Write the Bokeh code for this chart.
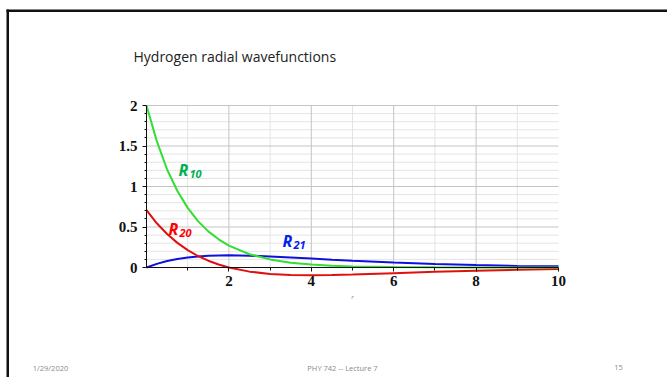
from bokeh.plotting import figure
from bokeh.models import (Range1d, FixedTicker, NumeralTickFormatter, Label,
                          BoxAnnotation, ColumnDataSource)
from bokeh.embed import file_html
from bokeh.resources import INLINE

# ---- data ----
r = [0, 0.25, 0.5, 0.75, 1, 1.25, 1.5, 1.75, 2, 2.5, 3, 3.5, 4, 4.5, 5, 6, 7, 8, 9, 10]
R10 = [2.0, 1.56, 1.21, 0.945, 0.736, 0.573, 0.446, 0.348, 0.271, 0.164, 0.100,
       0.060, 0.037, 0.022, 0.013, 0.005, 0.002, 0.001, 0.0, 0.0]
R20 = [0.707, 0.546, 0.413, 0.304, 0.214, 0.142, 0.084, 0.037, 0.0, -0.051, -0.079,
       -0.092, -0.096, -0.093, -0.087, -0.070, -0.053, -0.039, -0.028, -0.019]
R21 = [0.0, 0.045, 0.080, 0.105, 0.124, 0.137, 0.145, 0.149, 0.150, 0.146, 0.137,
       0.124, 0.111, 0.097, 0.084, 0.061, 0.043, 0.030, 0.020, 0.014]

x_ticks = [2, 4, 6, 8, 10]
x_minor = [1, 3, 5, 7, 9]
y_ticks = [0, 0.5, 1, 1.5, 2]
y_minor = [0.1, 0.2, 0.3, 0.4, 0.6, 0.7, 0.8, 0.9, 1.1, 1.2, 1.3, 1.4,
           1.6, 1.7, 1.8, 1.9]

title_text = "Hydrogen radial wavefunctions"
footer_left = "1/29/2020"
footer_mid = "PHY 742 -- Lecture 7"
footer_right = "15"

# ---- layout helpers (picture pixels -> data) ----
X0_PX, X10_PX = 146.0, 558.0
Y0_PX, PX_PER_Y = 267.0, 81.0
def px2x(px):
    return (px - X0_PX) / ((X10_PX - X0_PX) / 10.0)
def py2y(py):
    return (Y0_PX - py) / PX_PER_Y

W, H = 667, 377
OX, OY = 0, 0  # picture offset of figure

p = figure(width=W, height=H, output_backend="svg", toolbar_location=None,
           x_range=Range1d(px2x(OX), px2x(OX + W)),
           y_range=Range1d(py2y(OY + H), py2y(OY)),
           min_border_left=0, min_border_right=0, min_border_top=0, min_border_bottom=0,
           background_fill_color="white", border_fill_color="white")
p.outline_line_color = None
p.xgrid.visible = False
p.ygrid.visible = False

# ---- grid (drawn from tick lists) ----
ymin, ymax = y_ticks[0], y_ticks[-1]
xmin, xmax = 0, x_ticks[-1]
vmaj = [t for t in x_ticks if t < xmax]
hmaj = [t for t in y_ticks if t > ymin]
p.segment(x0=x_minor, y0=[ymin]*len(x_minor), x1=x_minor, y1=[ymax]*len(x_minor),
          line_color="#e4e4e4", line_width=1)
p.segment(x0=[xmin]*len(y_minor), y0=y_minor, x1=[xmax]*len(y_minor), y1=y_minor,
          line_color="#e4e4e4", line_width=1)
p.segment(x0=vmaj, y0=[ymin]*len(vmaj), x1=vmaj, y1=[ymax]*len(vmaj),
          line_color="#c4c4c4", line_width=1)
p.segment(x0=[xmin]*len(hmaj), y0=hmaj, x1=[xmax]*len(hmaj), y1=hmaj,
          line_color="#c4c4c4", line_width=1)

# ---- curves ----
src = ColumnDataSource(dict(r=r, R10=R10, R20=R20, R21=R21))
p.line("r", "R21", source=src, line_color="#1010dd", line_width=2)
p.line("r", "R20", source=src, line_color="#e01010", line_width=2)
p.line("r", "R10", source=src, line_color="#33dd33", line_width=2)

# ---- axes ----
tick_font = "Liberation Serif"
for ax in (p.xaxis[0], p.yaxis[0]):
    ax.fixed_location = 0
    ax.major_label_text_font = tick_font
    ax.major_label_text_font_style = "bold"
    ax.major_label_text_font_size = "15px"
    ax.major_label_text_color = "#111111"
    ax.axis_line_color = "#111111"
    ax.major_tick_line_color = "#111111"
    ax.minor_tick_line_color = "#111111"
    ax.major_tick_out = 4
    ax.major_tick_in = 0
    ax.minor_tick_in = 0

xa = p.xaxis[0]
xa.bounds = (0, 10)
xa.ticker = FixedTicker(ticks=x_ticks, minor_ticks=x_minor)
xa.minor_tick_out = 3
xa.major_label_standoff = 4

ya = p.yaxis[0]
ya.bounds = (0, 2)
ya.ticker = FixedTicker(ticks=y_ticks, minor_ticks=y_minor)
ya.formatter = NumeralTickFormatter(format="0.[0]")
ya.minor_tick_out = 2
ya.major_label_standoff = 5

# ---- curve labels ----
lab_font = "Open Sans"
def curve_label(x_px, y_px, sub, color):
    p.add_layout(Label(x=px2x(x_px), y=py2y(y_px), text="R", text_color=color,
                       text_font=lab_font, text_font_style="bold italic",
                       text_font_size="16px", text_baseline="alphabetic"))
    p.add_layout(Label(x=px2x(x_px + 11), y=py2y(y_px + 4), text=sub, text_color=color,
                       text_font=lab_font, text_font_style="bold italic",
                       text_font_size="11px", text_baseline="alphabetic"))

curve_label(178, 169, "10", "#00b050")
curve_label(168, 228, "20", "#ff0000")
curve_label(282, 240, "21", "#0022ee")

# axis variable
p.add_layout(Label(x=px2x(352), y=py2y(296), text="r", text_color="#888888",
                   text_font="Liberation Serif", text_font_style="italic",
                   text_font_size="7px", text_align="center", text_baseline="middle"))

# ---- slide texts ----
p.add_layout(Label(x=px2x(133), y=py2y(56), text=title_text, text_color="#222222",
                   text_font="Open Sans", text_font_size="14px",
                   text_baseline="middle"))
for txt, cx in [(footer_left, 50), (footer_mid, 342), (footer_right, 618)]:
    p.add_layout(Label(x=px2x(cx), y=py2y(367), text=txt, text_color="#8a8a8a",
                       text_font="Open Sans", text_font_size="7.5px",
                       text_align="center", text_baseline="middle"))

# ---- slide border ----
p.add_layout(BoxAnnotation(left=px2x(6), right=px2x(700), top=py2y(9), bottom=py2y(11.5),
                           fill_color="#111111", fill_alpha=1, line_color=None))
p.add_layout(BoxAnnotation(left=px2x(6), right=px2x(8.5), top=py2y(9), bottom=py2y(400),
                           fill_color="#111111", fill_alpha=1, line_color=None))

open("out.html", "w").write(file_html(p, INLINE))
